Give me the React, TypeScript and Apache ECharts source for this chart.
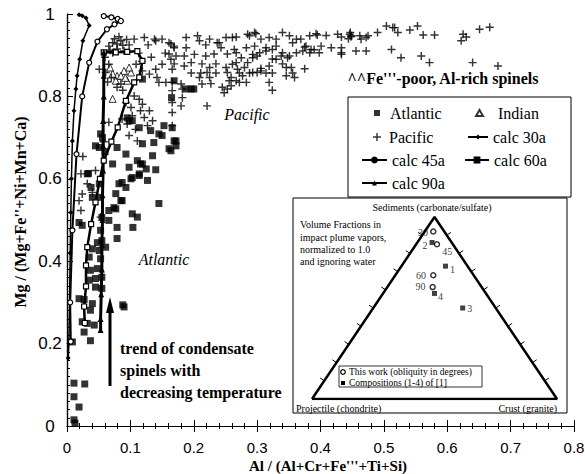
import React, { useEffect, useRef } from 'react';
import * as echarts from 'echarts';

const SERIF = '"Liberation Serif", "Times New Roman", serif';
const SANS = '"Liberation Sans", Arial, sans-serif';

const xTickLabels = ['0', '0.1', '0.2', '0.3', '0.4', '0.5', '0.6', '0.7', '0.8'];
const yTickLabels = ['0', '0.2', '0.4', '0.6', '0.8', '1'];

const atlantic: number[][] = [
  [0.032, 0.612], [0.019, 0.494], [0.051, 0.676], [0.056, 0.7], [0.053, 0.709], [0.095, 0.748], [0.103, 0.741],
  [0.114, 0.724], [0.119, 0.685], [0.132, 0.717], [0.137, 0.688], [0.145, 0.709], [0.161, 0.673], [0.172, 0.692],
  [0.166, 0.724], [0.153, 0.729], [0.135, 0.656], [0.093, 0.66], [0.098, 0.628], [0.111, 0.644], [0.119, 0.636],
  [0.125, 0.624], [0.114, 0.608], [0.103, 0.603], [0.087, 0.591], [0.077, 0.564], [0.087, 0.547], [0.074, 0.53],
  [0.066, 0.523], [0.145, 0.54], [0.103, 0.515], [0.079, 0.482], [0.055, 0.506], [0.051, 0.555], [0.038, 0.579],
  [0.119, 0.842], [0.169, 0.838], [0.196, 0.818], [0.165, 0.797], [0.169, 0.692], [0.172, 0.68], [0.164, 0.668],
  [0.034, 0.613], [0.051, 0.588], [0.04, 0.555], [0.024, 0.487], [0.072, 0.636], [0.082, 0.588], [0.093, 0.579],
  [0.085, 0.547], [0.077, 0.527], [0.066, 0.499], [0.079, 0.455], [0.104, 0.482], [0.111, 0.507], [0.14, 0.622],
  [0.127, 0.596], [0.114, 0.612], [0.101, 0.6], [0.116, 0.636], [0.053, 0.475], [0.055, 0.45], [0.051, 0.426],
  [0.061, 0.434], [0.053, 0.406], [0.048, 0.382], [0.037, 0.378], [0.045, 0.358], [0.035, 0.354], [0.055, 0.361],
  [0.045, 0.337], [0.055, 0.334], [0.019, 0.309], [0.027, 0.307], [0.04, 0.297], [0.037, 0.281], [0.024, 0.253],
  [0.032, 0.249], [0.043, 0.245], [0.027, 0.228], [0.037, 0.207], [0.09, 0.289], [0.088, 0.294], [0.0085, 0.204],
  [0.011, 0.104], [0.028, 0.102], [0.011, 0.071], [0.019, 0.046], [0.011, 0.015], [0.0126, 0.007], [0.079, 0.676],
  [0.098, 0.741], [0.15, 0.705], [0.06, 0.666], [0.045, 0.68], [0.2, 0.818], [0.188, 0.818], [0.04, 0.43],
  [0.048, 0.445], [0.035, 0.41],
];

const indian: number[][] = [
  [0.09, 0.862], [0.101, 0.858], [0.072, 0.794], [0.095, 0.838], [0.079, 0.85], [0.085, 0.85], [0.077, 0.838],
  [0.072, 0.855], [0.092, 0.845], [0.068, 0.87], [0.098, 0.87],
];

const pacific: number[][] = [
  [0.066, 0.922], [0.072, 0.93], [0.079, 0.927], [0.085, 0.935], [0.079, 0.915], [0.072, 0.906], [0.09, 0.91],
  [0.075, 0.94], [0.082, 0.945], [0.088, 0.924], [0.068, 0.912], [0.094, 0.938], [0.06, 0.895], [0.098, 0.925],
  [0.106, 0.939], [0.122, 0.943], [0.14, 0.935], [0.15, 0.939], [0.164, 0.927], [0.109, 0.878], [0.119, 0.862],
  [0.13, 0.854], [0.14, 0.866], [0.15, 0.878], [0.164, 0.89], [0.166, 0.866], [0.142, 0.846], [0.145, 0.834],
  [0.156, 0.834], [0.138, 0.939], [0.161, 0.93], [0.169, 0.918], [0.128, 0.925], [0.113, 0.905], [0.133, 0.895],
  [0.155, 0.905], [0.118, 0.885],
  [0.051, 0.866], [0.061, 0.858], [0.066, 0.878], [0.079, 0.822], [0.085, 0.83], [0.07, 0.845], [0.088, 0.815],
  [0.064, 0.835],
  [0.106, 0.801], [0.114, 0.793], [0.119, 0.781], [0.13, 0.765], [0.101, 0.773], [0.103, 0.753], [0.116, 0.765],
  [0.087, 0.745], [0.095, 0.733], [0.122, 0.749], [0.135, 0.741], [0.127, 0.729], [0.111, 0.692], [0.098, 0.705],
  [0.066, 0.737], [0.093, 0.785], [0.108, 0.72],
  [0.025, 0.654], [0.022, 0.612], [0.024, 0.563], [0.019, 0.547], [0.032, 0.588], [0.04, 0.567], [0.022, 0.523],
  [0.053, 0.507], [0.045, 0.62], [0.058, 0.69],
  [0.188, 0.943], [0.206, 0.947], [0.225, 0.939], [0.237, 0.93], [0.251, 0.943], [0.261, 0.943], [0.267, 0.944],
  [0.285, 0.951], [0.296, 0.955], [0.306, 0.939], [0.319, 0.943], [0.33, 0.939], [0.34, 0.955], [0.351, 0.947],
  [0.362, 0.939], [0.356, 0.93], [0.298, 0.952], [0.288, 0.947],
  [0.169, 0.922], [0.188, 0.918], [0.24, 0.93], [0.243, 0.918], [0.264, 0.914], [0.283, 0.918], [0.296, 0.922],
  [0.314, 0.918], [0.33, 0.922], [0.34, 0.906], [0.304, 0.906], [0.314, 0.91], [0.324, 0.914], [0.209, 0.935],
  [0.219, 0.925],
  [0.161, 0.903], [0.172, 0.898], [0.185, 0.898], [0.201, 0.902], [0.219, 0.898], [0.232, 0.903], [0.253, 0.903],
  [0.267, 0.906], [0.275, 0.894], [0.293, 0.902], [0.3, 0.898], [0.324, 0.891], [0.338, 0.898], [0.348, 0.894],
  [0.362, 0.906], [0.33, 0.89], [0.351, 0.898], [0.293, 0.894],
  [0.169, 0.879], [0.185, 0.874], [0.196, 0.882], [0.213, 0.879], [0.225, 0.87], [0.235, 0.879], [0.251, 0.87],
  [0.267, 0.882], [0.28, 0.87], [0.306, 0.868], [0.319, 0.874], [0.34, 0.879], [0.354, 0.87], [0.261, 0.878],
  [0.285, 0.882], [0.346, 0.87],
  [0.196, 0.857], [0.211, 0.857], [0.225, 0.846], [0.235, 0.857], [0.253, 0.858], [0.259, 0.846], [0.272, 0.857],
  [0.288, 0.857], [0.3, 0.858], [0.314, 0.857], [0.324, 0.857], [0.346, 0.85], [0.356, 0.857], [0.359, 0.846],
  [0.221, 0.858], [0.209, 0.846], [0.277, 0.85], [0.293, 0.858], [0.306, 0.862], [0.269, 0.866],
  [0.166, 0.834], [0.18, 0.83], [0.213, 0.83], [0.227, 0.831], [0.245, 0.822], [0.253, 0.818], [0.259, 0.826],
  [0.267, 0.838], [0.272, 0.834], [0.283, 0.834], [0.319, 0.834], [0.248, 0.809], [0.324, 0.815], [0.256, 0.838],
  [0.182, 0.797], [0.18, 0.777], [0.221, 0.777], [0.166, 0.814], [0.166, 0.785], [0.166, 0.761], [0.166, 0.729],
  [0.182, 0.818],
  [0.369, 0.939], [0.383, 0.947], [0.393, 0.952], [0.395, 0.949], [0.409, 0.948], [0.427, 0.951], [0.433, 0.944],
  [0.446, 0.951], [0.447, 0.955], [0.448, 0.945], [0.444, 0.94], [0.449, 0.947], [0.462, 0.947], [0.464, 0.939],
  [0.472, 0.943], [0.475, 0.947], [0.49, 0.955], [0.504, 0.971], [0.514, 0.967], [0.517, 0.967], [0.522, 0.955],
  [0.541, 0.961], [0.553, 0.971], [0.562, 0.949], [0.58, 0.949], [0.625, 0.951], [0.622, 0.935], [0.63, 0.944],
  [0.651, 0.963], [0.667, 0.968],
  [0.377, 0.922], [0.372, 0.91], [0.383, 0.906], [0.39, 0.913], [0.401, 0.922], [0.398, 0.906], [0.417, 0.918],
  [0.433, 0.918], [0.433, 0.906], [0.456, 0.91], [0.472, 0.91], [0.512, 0.914], [0.527, 0.894], [0.559, 0.898],
  [0.572, 0.882], [0.64, 0.882], [0.68, 0.874], [0.375, 0.867], [0.385, 0.914], [0.375, 0.92], [0.433, 0.902],
];

const calc30a: number[][] = [
  [0.019, 0.998], [0.024, 0.996], [0.03, 0.99], [0.035, 0.972], [0.025, 0.935], [0.02, 0.89], [0.016, 0.85],
  [0.014, 0.818], [0.011, 0.765], [0.0085, 0.692], [0.007, 0.6], [0.006, 0.518], [0.005, 0.42], [0.004, 0.3],
  [0.003, 0.2], [0.002, 0.165],
];
const calc45a: number[][] = [
  [0.058, 0.995], [0.07, 0.992], [0.08, 0.988], [0.085, 0.983], [0.075, 0.975], [0.063, 0.963], [0.048, 0.933],
  [0.035, 0.882], [0.024, 0.8], [0.015, 0.66], [0.0085, 0.475], [0.005, 0.3], [0.006, 0.205],
];
const calc60a: number[][] = [
  [0.058, 0.907], [0.077, 0.907], [0.095, 0.908], [0.111, 0.91], [0.119, 0.886], [0.114, 0.846], [0.106, 0.834],
  [0.093, 0.789], [0.08, 0.725], [0.07, 0.69], [0.058, 0.644], [0.052, 0.6], [0.045, 0.543], [0.038, 0.49],
  [0.032, 0.434], [0.03, 0.39], [0.03, 0.339], [0.027, 0.29], [0.028, 0.25],
];
const calc90a: number[][] = [
  [0.058, 0.907], [0.058, 0.85], [0.058, 0.8], [0.057, 0.74], [0.057, 0.68], [0.057, 0.62], [0.056, 0.56],
  [0.056, 0.5], [0.055, 0.44], [0.055, 0.38], [0.054, 0.32], [0.053, 0.26], [0.053, 0.233],
];

// Inset ternary: [projectile, crust, sediments] volume fractions
const thisWorkNames = ['30', '45', '60', '90'];
const thisWorkFractions: number[][] = [
  [0.045, 0.035, 0.92], [0.065, 0.085, 0.85], [0.165, 0.155, 0.68], [0.2, 0.185, 0.615],
];
const compNames = ['1', '2', '3', '4'];
const compFractions: number[][] = [
  [0.09, 0.18, 0.73], [0.08, 0.06, 0.86], [0.135, 0.365, 0.5], [0.21, 0.21, 0.58],
];
const triangleVertices: number[][] = [[1, 0, 0], [0, 1, 0], [0, 0, 1], [1, 0, 0]];

const ternaryToXY = (f: number[]) => [f[1] + f[2] / 2, f[2]];

const plusPath = 'path://M4.1,0H5.9V4.1H10V5.9H5.9V10H4.1V5.9H0V4.1H4.1Z';

const labelPlacement: Record<string, any> = {
  '30': { position: 'left', distance: 2, offset: [0, 1] },
  '45': { position: 'right', distance: 2, offset: [0, 7] },
  '60': { position: 'left', distance: 4 },
  '90': { position: 'left', distance: 4, offset: [0, -1] },
  '1': { position: 'right', distance: 2, offset: [0, 3] },
  '2': { position: 'left', distance: 2, offset: [0, 3] },
  '3': { position: 'right', distance: 2 },
  '4': { position: 'right', distance: 1, offset: [0, 3] },
};

export default function App() {
  const ref = useRef<HTMLDivElement>(null);
  useEffect(() => {
    if (!ref.current) return;
    const chart = echarts.init(ref.current, undefined, { renderer: 'svg' });

    // triangle tick marks (decoration)
    const A = [312, 399], B = [557, 399], T = [434.5, 217];
    const ticks: any[] = [];
    const addTicks = (P: number[], Q: number[], nx: number, ny: number) => {
      for (let k = 1; k < 10; k++) {
        const x = P[0] + (Q[0] - P[0]) * k / 10;
        const y = P[1] + (Q[1] - P[1]) * k / 10;
        ticks.push({ type: 'line', shape: { x1: x, y1: y, x2: x + nx * 5, y2: y + ny * 5 }, style: { stroke: '#000', lineWidth: 1 } });
      }
    };
    const lenL = Math.hypot(T[0] - A[0], T[1] - A[1]);
    addTicks(A, T, -(A[1] - T[1]) / lenL, -(T[0] - A[0]) / lenL);
    addTicks(B, T, (B[1] - T[1]) / lenL, -(B[0] - T[0]) / lenL);

    const txt = (x: number, y: number, text: string, font: string, align = 'left', extra: any = {}) => ({
      type: 'text', x, y, ...extra,
      style: { text, font, fill: '#000', align, verticalAlign: 'middle' },
    });

    const legendText = (padLeft: number) => ({
      fontFamily: SERIF, fontSize: 16, color: '#000', lineHeight: 18, padding: [0, 0, 0, padLeft],
    });
    const legendBase = { orient: 'vertical', padding: 0, selectedMode: false };
    const darkIcon = { color: '#000', borderColor: '#000' };

    const axisCommon = {
      splitLine: { show: false },
      axisLine: { show: true, lineStyle: { color: '#000', width: 1.2 } },
      axisTick: { show: true, inside: true, length: 6, lineStyle: { color: '#000', width: 1 } },
    };

    const option: any = {
      animation: false,
      backgroundColor: '#fff',
      grid: [
        { left: 67, right: 11, top: 14, bottom: 48, outerBoundsMode: 'none' },
        { left: 312, top: 217, width: 245, height: 182, outerBoundsMode: 'none' },
      ],
      xAxis: [
        {
          ...axisCommon, type: 'value', min: 0, max: 0.8, interval: 0.1, gridIndex: 0, position: 'bottom',
          minorTick: { show: true, splitNumber: 5, length: 3, lineStyle: { color: '#000' } },
          axisLabel: {
            margin: 8, padding: [6, 0, 0, 0], fontFamily: SANS, fontSize: 15, color: '#000',
            formatter: (v: number) => xTickLabels[Math.round(v / 0.1)] ?? '',
          },
        },
        {
          ...axisCommon, type: 'value', min: 0, max: 0.8, interval: 0.1, gridIndex: 0, position: 'top',
          minorTick: { show: true, splitNumber: 5, length: 3, lineStyle: { color: '#000' } },
          axisLabel: { show: false },
        },
        { type: 'value', min: 0, max: 1, gridIndex: 1, show: false },
      ],
      yAxis: [
        {
          ...axisCommon, type: 'value', min: 0, max: 1, interval: 0.2, gridIndex: 0, position: 'left',
          minorTick: { show: true, splitNumber: 10, length: 3, lineStyle: { color: '#000' } },
          axisLabel: {
            margin: 17, align: 'center', fontFamily: SANS, fontSize: 17, color: '#000',
            formatter: (v: number) => yTickLabels[Math.round(v / 0.2)] ?? '',
          },
        },
        {
          ...axisCommon, type: 'value', min: 0, max: 1, interval: 0.2, gridIndex: 0, position: 'right',
          axisTick: { show: true, inside: false, length: 4, lineStyle: { color: '#000' } },
          minorTick: { show: true, splitNumber: 10, length: 3, lineStyle: { color: '#000' } },
          axisLabel: { show: false },
        },
        { type: 'value', min: 0, max: 1, gridIndex: 1, show: false },
      ],
      legend: [
        { ...legendBase, data: ['Atlantic'], left: 374, top: 104, itemWidth: 6, itemHeight: 6, textStyle: legendText(5) },
        { ...legendBase, data: ['Indian'], left: 475, top: 104, itemWidth: 7, itemHeight: 6, textStyle: legendText(10) },
        { ...legendBase, data: ['Pacific'], left: 373, top: 128, itemWidth: 8, itemHeight: 8, textStyle: legendText(3) },
        { ...legendBase, data: ['calc 30a'], left: 467, top: 128, itemWidth: 20, itemHeight: 6, textStyle: legendText(0) },
        { ...legendBase, data: ['calc 45a'], left: 361, top: 151, itemWidth: 25, itemHeight: 6, textStyle: legendText(0), itemStyle: darkIcon },
        { ...legendBase, data: ['calc 60a'], left: 464, top: 151, itemWidth: 24, itemHeight: 6, textStyle: legendText(0), itemStyle: darkIcon },
        { ...legendBase, data: ['calc 90a'], left: 361, top: 174, itemWidth: 25, itemHeight: 6, textStyle: legendText(0) },
      ],
      series: [
        {
          name: 'Atlantic', type: 'scatter', data: atlantic, symbol: 'rect', symbolSize: 7,
          itemStyle: { color: '#000' },
        },
        {
          name: 'Indian', type: 'scatter', data: indian, symbol: 'triangle', symbolSize: 7,
          itemStyle: { color: '#fff', borderColor: '#000', borderWidth: 1 },
        },
        {
          name: 'Pacific', type: 'scatter', data: pacific, symbol: plusPath, symbolSize: 8,
          itemStyle: { color: '#000' },
        },
        {
          name: 'calc 30a', type: 'line', data: calc30a, symbol: 'diamond', symbolSize: 5, showAllSymbol: true,
          itemStyle: { color: '#000' }, lineStyle: { color: '#000', width: 1.5 },
        },
        {
          name: 'calc 45a', type: 'line', data: calc45a, symbol: 'circle', symbolSize: 5, showAllSymbol: true,
          itemStyle: { color: '#fff', borderColor: '#000', borderWidth: 1.2 }, lineStyle: { color: '#000', width: 2 },
        },
        {
          name: 'calc 60a', type: 'line', data: calc60a, symbol: 'rect', symbolSize: 5, showAllSymbol: true,
          itemStyle: { color: '#fff', borderColor: '#000', borderWidth: 1.2 }, lineStyle: { color: '#000', width: 2.5 },
        },
        {
          name: 'calc 90a', type: 'line', data: calc90a, symbol: 'triangle', symbolSize: 6, showAllSymbol: true,
          itemStyle: { color: '#000' }, lineStyle: { color: '#000', width: 3 },
        },
        {
          name: 'triangle', type: 'line', xAxisIndex: 2, yAxisIndex: 2,
          data: triangleVertices.map(ternaryToXY), symbol: 'none',
          lineStyle: { color: '#000', width: 2.5 },
        },
        {
          name: 'This work', type: 'scatter', xAxisIndex: 2, yAxisIndex: 2, symbol: 'circle', symbolSize: 5,
          itemStyle: { color: '#fff', borderColor: '#000', borderWidth: 1.5 },
          label: { show: true, formatter: '{b}', fontFamily: SERIF, fontSize: 10, color: '#000' },
          data: thisWorkFractions.map((f, i) => ({
            name: thisWorkNames[i], value: ternaryToXY(f), label: labelPlacement[thisWorkNames[i]],
          })),
        },
        {
          name: 'Compositions', type: 'scatter', xAxisIndex: 2, yAxisIndex: 2, symbol: 'rect', symbolSize: 5,
          itemStyle: { color: '#111' },
          label: { show: true, formatter: '{b}', fontFamily: SERIF, fontSize: 10, color: '#000' },
          data: compFractions.map((f, i) => ({
            name: compNames[i], value: ternaryToXY(f), label: labelPlacement[compNames[i]],
          })),
        },
      ],
      graphic: [
        // axis titles
        txt(20, 212, "Mg / (Mg+Fe''+Ni+Mn+Ca)", `bold 16px ${SERIF}`, 'center', { rotation: Math.PI / 2 }),
        txt(328, 466, "Al / (Al+Cr+Fe'''+Ti+Si)", `bold 15px ${SERIF}`, 'center'),
        // annotations
        txt(247, 114, 'Pacific', `italic 16px ${SERIF}`, 'center'),
        txt(164, 259, 'Atlantic', `italic 16px ${SERIF}`, 'center'),
        txt(443, 78, "^^Fe'''-poor, Al-rich spinels", `bold 16px ${SERIF}`, 'center'),
        txt(120, 348, 'trend of condensate', `bold 16px ${SERIF}`),
        txt(120, 370, 'spinels with', `bold 16px ${SERIF}`),
        txt(120, 392, 'decreasing temperature', `bold 16px ${SERIF}`),
        { type: 'line', shape: { x1: 110, y1: 386, x2: 110, y2: 308 }, style: { stroke: '#000', lineWidth: 3 } },
        { type: 'polygon', shape: { points: [[110, 297], [106, 313], [114, 313]] }, style: { fill: '#000' } },
        // legend box
        { type: 'rect', shape: { x: 348, y: 97, width: 223, height: 100 }, style: { fill: 'none', stroke: '#000', lineWidth: 1 } },
        // inset box
        { type: 'rect', shape: { x: 293, y: 198, width: 274, height: 215 }, style: { fill: 'none', stroke: '#000', lineWidth: 1 } },
        txt(432, 207, 'Sediments (carbonate/sulfate)', `10px ${SERIF}`, 'center'),
        txt(300, 224, 'Volume Fractions in', `10px ${SERIF}`),
        txt(300, 237, 'impact plume vapors,', `10px ${SERIF}`),
        txt(300, 249, 'normalized to 1.0', `10px ${SERIF}`),
        txt(300, 261, 'and ignoring water', `10px ${SERIF}`),
        txt(296, 408, 'Projectile (chondrite)', `10px ${SERIF}`),
        txt(557, 408, 'Crust (granite)', `10px ${SERIF}`, 'right'),
        ...ticks,
        // inset legend
        { type: 'rect', shape: { x: 339, y: 366, width: 143, height: 21 }, style: { fill: '#fff', stroke: '#000', lineWidth: 0.8 } },
        { type: 'circle', shape: { cx: 343, cy: 372, r: 2.3 }, style: { fill: '#fff', stroke: '#000', lineWidth: 1.2 } },
        { type: 'rect', shape: { x: 341, y: 381, width: 4, height: 4 }, style: { fill: '#000' } },
        txt(349, 372, 'This work (obliquity in degrees)', `9.5px ${SERIF}`),
        txt(349, 383, 'Compositions (1-4) of [1]', `9.5px ${SERIF}`),
      ],
    };
    chart.setOption(option);
    return () => chart.dispose();
  }, []);
  return (
    <div
      ref={ref}
      style={{ position: 'fixed', left: 0, top: 0, width: 585, height: 474, background: '#fff' }}
    />
  );
}
